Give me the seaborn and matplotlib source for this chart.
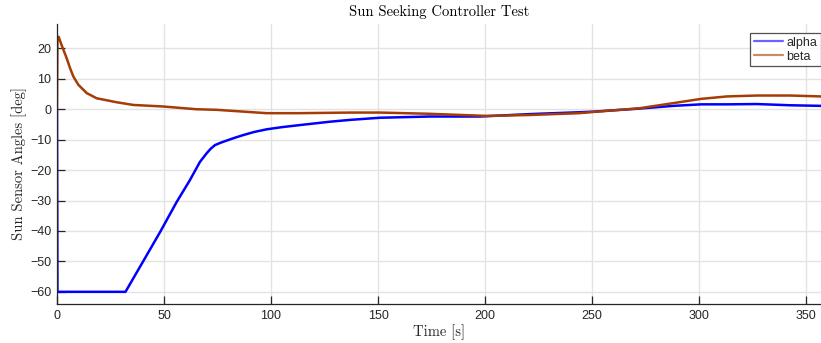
import numpy as np
import pandas as pd
import matplotlib
matplotlib.use("Agg")
import matplotlib.pyplot as plt
import seaborn as sns

# ---- data ----
alpha_t = [0, 0.2, 32, 40, 48.3, 55.9, 62.1, 66.8, 69.9, 71.8, 73.8, 76.5,
           79.3, 83, 87, 92, 98, 105, 113.6, 127.6, 137, 151, 174, 197.7, 221,
           244, 250.6, 272, 288, 301, 313, 327, 342.5, 357]
alpha_v = [0, -60, -60, -50.3, -40.2, -30.5, -23.3, -17.3, -14.5, -13.0, -11.8,
           -11.0, -10.3, -9.4, -8.5, -7.5, -6.6, -5.9, -5.2, -4.1, -3.5, -2.8,
           -2.4, -2.4, -1.6, -1.0, -0.8, 0.2, 1.1, 1.6, 1.6, 1.7, 1.3, 1.1]
beta_t = [0, 0.2, 0.8, 1.5, 3.0, 4.5, 6.1, 7.6, 10, 13.9, 18.5, 27.8, 35.7,
          49.5, 65, 74.6, 98, 113, 137, 151, 174, 200.8, 221, 244, 250.6, 272,
          288, 301, 313, 327, 342.5, 357]
beta_v = [0, 23.0, 23.8, 22.3, 19.5, 16.8, 13.5, 10.8, 8.0, 5.3, 3.6, 2.3, 1.4,
          0.9, 0.0, -0.2, -1.3, -1.3, -1.1, -1.1, -1.5, -2.2, -1.9, -1.3, -0.9,
          0.3, 2.0, 3.4, 4.2, 4.5, 4.5, 4.2]
series_names = ["alpha", "beta"]
x_ticks = [0, 50, 100, 150, 200, 250, 300, 350]
y_ticks = [-60, -50, -40, -30, -20, -10, 0, 10, 20]
title = "Sun Seeking Controller Test"
x_label = "Time [s]"
y_label = "Sun Sensor Angles [deg]"

df = pd.concat([
    pd.DataFrame({"t": alpha_t, "v": alpha_v, "s": series_names[0]}),
    pd.DataFrame({"t": beta_t, "v": beta_v, "s": series_names[1]}),
], ignore_index=True)

sns.set_theme(style="white")
plt.rcParams["font.family"] = ["Liberation Sans", "DejaVu Sans"]
dark = "#262626"

fig = plt.figure(figsize=(8.21, 3.43), dpi=100)
ax = fig.add_axes([57 / 821, 1 - 304 / 343, (821 - 57) / 821, (304 - 24) / 343])

palette = {"alpha": "#0000ff", "beta": "#a53c06"}
sns.lineplot(data=df, x="t", y="v", hue="s", palette=palette, estimator=None,
             sort=False, linewidth=1.8, ax=ax)

ax.set_xlim(0, 357)
ax.set_ylim(-64, 28)
ax.set_xticks(x_ticks)
ax.set_yticks(y_ticks)
ax.grid(True, color="#e3e3e3", linewidth=1.0)
ax.set_axisbelow(True)
for side in ["top", "right"]:
    ax.spines[side].set_visible(False)
for side in ["left", "bottom"]:
    ax.spines[side].set_color(dark)
    ax.spines[side].set_linewidth(0.9)
ax.tick_params(direction="in", length=5.5, width=0.9, color=dark,
               labelcolor=dark, labelsize=9, left=True, bottom=True, pad=4)

serif = ["cmr10", "DejaVu Serif"]
ax.set_title(title, family=serif, fontsize=10.5, color="black", pad=6)
ax.set_xlabel(x_label, family=serif, fontsize=10.5, color=dark, labelpad=2)
ax.set_ylabel(y_label, family=serif, fontsize=10.5, color=dark, labelpad=2)

leg = ax.legend(loc="upper right", bbox_to_anchor=(1.0, 1 - 9 / 280),
                borderaxespad=0, fontsize=9, frameon=True, fancybox=False,
                handlelength=2.3, handletextpad=0.3, labelspacing=0.15,
                borderpad=0.3)
leg.get_frame().set_edgecolor(dark)
leg.get_frame().set_linewidth(0.9)
for h in leg.get_lines():
    h.set_alpha(0.6)
    h.set_linewidth(1.6)
for t in leg.get_texts():
    t.set_color(dark)

fig.savefig("out.png", dpi=100)
